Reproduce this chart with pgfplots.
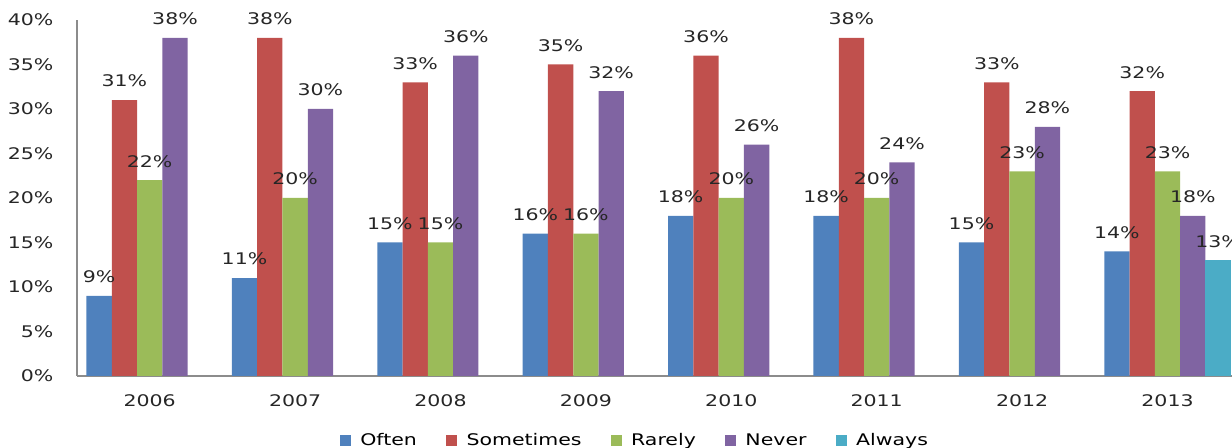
\documentclass[border=0pt]{standalone}
\usepackage{pgfplots}
\pgfplotsset{compat=1.18}
\usepackage{fontspec}
\setmainfont{DejaVu Sans}[FakeStretch=1.28]

\definecolor{cOften}{HTML}{4F81BD}
\definecolor{cSometimes}{HTML}{C0504D}
\definecolor{cRarely}{HTML}{9BBB59}
\definecolor{cNever}{HTML}{8064A2}
\definecolor{cAlways}{HTML}{4BACC6}

\begin{document}
\fontsize{12}{14}\selectfont
\begin{tikzpicture}
% page = 1232x448 px at 0.75pt per px
\useasboundingbox (-57.75pt,-54pt) rectangle (866.25pt,282pt);
\begin{axis}[
    at={(0pt,0pt)}, anchor=south west,
    scale only axis, width=872.4pt, height=267pt,
    xmin=-0.5, xmax=7.5, ymin=0, ymax=40,
    ybar=0pt, bar width=0.174,
    axis x line*=bottom, axis y line*=left,
    axis line style={-, draw=black!45, line width=1pt},
    major tick length=0pt,
    xtick={0,1,2,3,4,5,6,7},
    xticklabels={2006,2007,2008,2009,2010,2011,2012,2013},
    ytick={0,5,...,40},
    yticklabel={\pgfmathprintnumber{\tick}\%},
    /pgf/number format/assume math mode=true,
    xticklabel style={yshift=-10pt, text=black!85},
    yticklabel style={xshift=-13.5pt, text=black!85},
    every axis plot/.append style={draw=none},
    nodes near coords={\pgfmathprintnumber{\pgfplotspointmeta}\%},
    every node near coord/.append style={yshift=5.5pt, text=black!85},
    legend style={at={(axis description cs:0.48,-0.182)}, anchor=center,
        draw=none, fill=none, legend columns=-1,
        /tikz/every odd column/.append style={column sep=5pt},
        /tikz/every even column/.append style={column sep=20pt}},
    legend image code/.code={\fill[#1] (0pt,-4.1pt) rectangle (8.2pt,4.1pt);},
]
\addplot[fill=cOften] coordinates {(0,9) (1,11) (2,15) (3,16) (4,18) (5,18) (6,15) (7,14)};
\addlegendentry{Often}
\addplot[fill=cSometimes] coordinates {(0,31) (1,38) (2,33) (3,35) (4,36) (5,38) (6,33) (7,32)};
\addlegendentry{Sometimes}
\addplot[fill=cRarely] coordinates {(0,22) (1,20) (2,15) (3,16) (4,20) (5,20) (6,23) (7,23)};
\addlegendentry{Rarely}
\addplot[fill=cNever] coordinates {(0,38) (1,30) (2,36) (3,32) (4,26) (5,24) (6,28) (7,18)};
\addlegendentry{Never}
\addplot[fill=cAlways] coordinates {(7,13)};
\addlegendentry{Always}
\end{axis}
\end{tikzpicture}
\end{document}
